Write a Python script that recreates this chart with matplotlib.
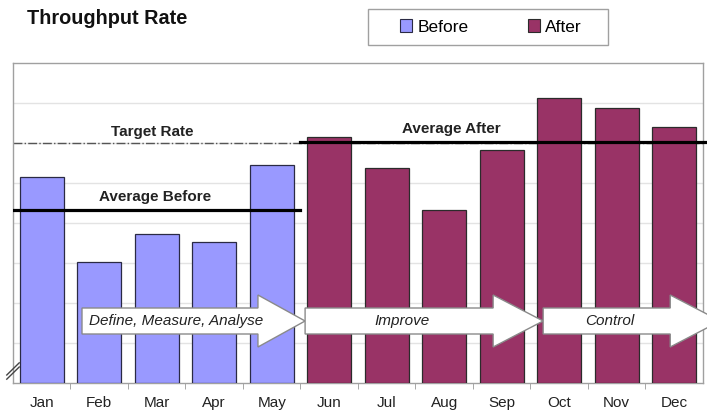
import numpy as np
import matplotlib.pyplot as plt
from matplotlib.patches import Patch, Polygon, Rectangle

plt.rcParams['font.family'] = ['Liberation Sans', 'DejaVu Sans']

# date (unitati arbitrare, axa Y fara etichete)
months = ['Jan', 'Feb', 'Mar', 'Apr', 'May', 'Jun',
          'Jul', 'Aug', 'Sep', 'Oct', 'Nov', 'Dec']
before_vals = [51.5, 30.3, 37.3, 35.2, 54.5]
after_vals = [61.6, 53.7, 43.3, 58.3, 71.3, 68.8, 63.9]
target_rate = 60.0
avg_before = 43.3
avg_after = 60.3
phases = ['Define, Measure, Analyse', 'Improve', 'Control']
phase_spans = [(0.70, 3.76, 4.58), (4.58, 7.85, 8.72), (8.72, 10.93, 11.80)]

col_before = '#9999ff'
col_after = '#993366'

fig = plt.figure(figsize=(7.07, 4.12), dpi=100)
ax = fig.add_axes([13 / 707, 29 / 412, 690 / 707, 320 / 412])

x = np.arange(len(months))
n_b = len(before_vals)
ax.bar(x[:n_b], before_vals, width=0.77, color=col_before,
       edgecolor='#2a2a44', linewidth=0.9, zorder=3)
ax.bar(x[n_b:], after_vals, width=0.77, color=col_after,
       edgecolor='#2b2b2b', linewidth=0.9, zorder=3)

ax.set_xlim(-0.5, len(months) - 0.5)
ax.set_ylim(0, 80)

# grila
ax.set_yticks(np.arange(10, 80, 10))
ax.yaxis.grid(True, color='#e3e3e3', linewidth=1)
ax.set_axisbelow(True)
ax.tick_params(axis='y', length=0, labelleft=False)

ax.set_xticks(x)
ax.set_xticklabels(months, fontsize=11, color='#222222')
ax.set_xticks(x[:-1] + 0.5, minor=True)
ax.tick_params(axis='x', which='major', length=0, pad=9.5)
ax.tick_params(axis='x', which='minor', length=4, color='#999999')

for s in ax.spines.values():
    s.set_color('#a0a0a0')
    s.set_linewidth(1)

# linii de referinta
ax.axhline(target_rate, color='#555555', linestyle='-.', linewidth=1, zorder=2)
ax.plot([-0.5, n_b - 0.51], [avg_before, avg_before], color='black', lw=2.3, zorder=4)
ax.plot([n_b - 0.51, 11.6], [avg_after, avg_after], color='black', lw=2.3,
        zorder=4, clip_on=False)
ax.text(1.93, 62.8, 'Target Rate', ha='center', va='center', fontsize=11,
        fontweight='bold', color='#222222')
ax.text(1.97, 46.5, 'Average Before', ha='center', va='center', fontsize=11,
        fontweight='bold', color='#222222')
ax.text(7.13, 63.6, 'Average After', ha='center', va='center', fontsize=11,
        fontweight='bold', color='#222222')

# sagetile DMAIC
yc, bh, hh = 15.5, 3.25, 6.5
for label, (x0, xh, xt) in zip(phases, phase_spans):
    verts = [(x0, yc - bh), (xh, yc - bh), (xh, yc - hh), (xt, yc),
             (xh, yc + hh), (xh, yc + bh), (x0, yc + bh)]
    ax.add_patch(Polygon(verts, closed=True, facecolor='white',
                         edgecolor='#8a8a8a', linewidth=1, zorder=5, clip_on=False))
    xm = (x0 + xh) / 2 + (0.1 if label == 'Define, Measure, Analyse' else 0.05)
    ax.text(xm, yc, label, ha='center', va='center', fontsize=11,
            fontstyle='italic', color='#222222', zorder=6)

# semnul de intrerupere a axei
for dy in (0.0, 0.013):
    ax.plot([-0.009, 0.009], [0.012 + dy, 0.050 + dy], transform=ax.transAxes,
            color='#444444', lw=1, clip_on=False, zorder=6)

fig.text(27 / 707, 1 - 19 / 412, 'Throughput Rate', fontsize=14.3,
         fontweight='bold', va='center', color='#111111')

# legenda, cu chenar desenat separat
fig.patches.append(Rectangle((368 / 707, 1 - 45 / 412), 240 / 707, 36 / 412,
                             transform=fig.transFigure, facecolor='white',
                             edgecolor='#a0a0a0', linewidth=1, zorder=0))
handles = [Patch(facecolor=col_before, edgecolor='#2a2a44', linewidth=0.8),
           Patch(facecolor=col_after, edgecolor='#2b2b2b', linewidth=0.8)]
leg = fig.legend(handles, ['Before', 'After'], ncol=2, loc='center',
                 bbox_to_anchor=(491 / 707, 1 - 27 / 412), fontsize=12.5,
                 frameon=False, handlelength=0.7,
                 handleheight=0.7, handletextpad=0.3, columnspacing=3.4,
                 borderpad=0.6, borderaxespad=0)

fig.savefig('out.png', dpi=100)
